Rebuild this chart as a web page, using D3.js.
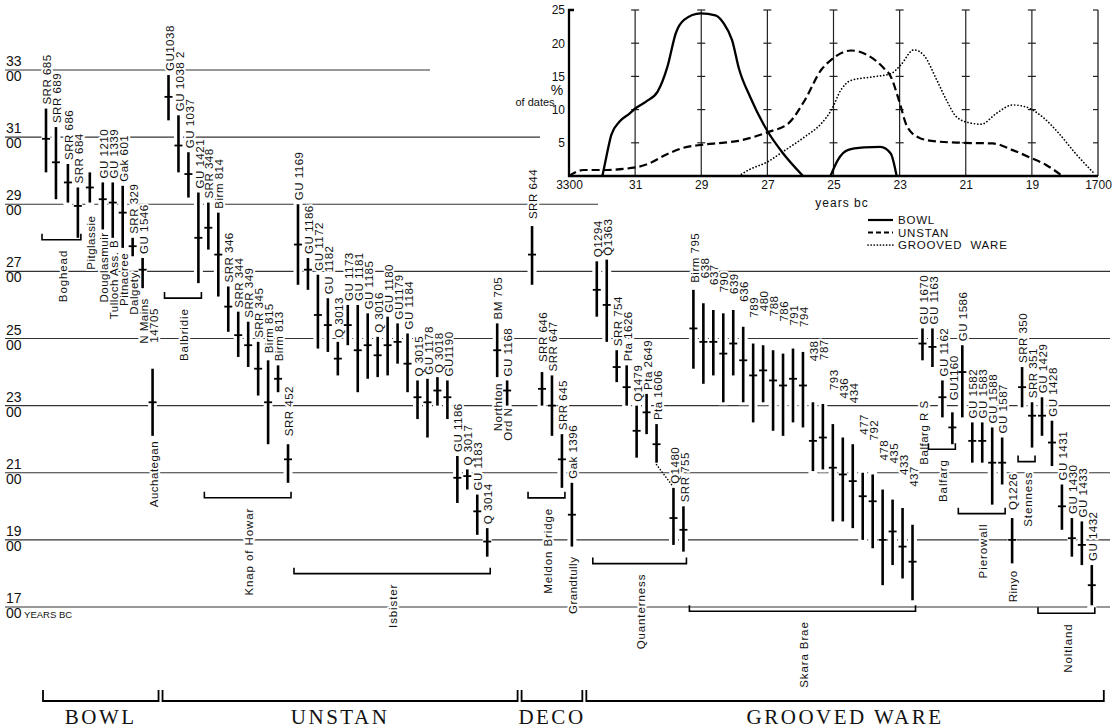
<!DOCTYPE html>
<html>
<head>
<meta charset="utf-8">
<script src="https://cdn.jsdelivr.net/npm/d3@7"></script>
<style>
body { margin: 0; background: #fff; }
svg text { font-family: "Liberation Sans", Arial, sans-serif; fill: #111; }
</style>
</head>
<body>
<script>
// radiocarbon dates, years bc: [lab code, upper, mid, lower, site]
var bowlDates = [
  ["SRR 685", 3185, 3095, 2995],
  ["SRR 689", 3130, 3025, 2915],
  ["SRR 686", 3020, 2965, 2905],
  ["SRR 684", 2950, 2895, 2800],
  ["", 2995, 2950, 2905, "Pitglassie"],
  ["GU 1210", 2965, 2915, 2825, "Douglasmuir"],
  ["GU 1339", 2965, 2905, 2800, "Tulloch Ass. B"],
  ["Gak 601", 2955, 2875, 2770, "Pitnacree"],
  ["SRR 329", 2800, 2775, 2745, "Dalgety"],
  ["GU 1546", 2740, 2705, 2650, "N Mains"],
  ["14705", 2410, 2310, 2210, "Auchategan"]
];
var unstanDates = [
  ["GU1038", 3285, 3220, 3150],
  ["GU 1038 2", 3165, 3075, 2995],
  ["GU 1037", 3055, 2990, 2920],
  ["GU 1421", 2935, 2800, 2665],
  ["SRR 348", 2905, 2830, 2765],
  ["Birm 814", 2875, 2750, 2625],
  ["SRR 346", 2655, 2595, 2520],
  ["SRR 344", 2580, 2510, 2445],
  ["SRR 349", 2550, 2480, 2415],
  ["SRR 345", 2490, 2410, 2330],
  ["Birm 815", 2435, 2310, 2185],
  ["Birm 813", 2420, 2380, 2340],
  ["SRR 452", 2185, 2140, 2070],
  ["GU 1169", 2900, 2780, 2660],
  ["GU 1186", 2740, 2705, 2645],
  ["GU 1172", 2690, 2570, 2470],
  ["GU 1182", 2620, 2540, 2460],
  ["Q 3013", 2490, 2440, 2390],
  ["GU 1173", 2600, 2540, 2480],
  ["GU 1181", 2600, 2465, 2340],
  ["GU 1185", 2575, 2480, 2380],
  ["Q 3016", 2505, 2450, 2385],
  ["GU 1180", 2565, 2480, 2390],
  ["GU1179", 2545, 2490, 2425],
  ["GU 1184", 2515, 2425, 2340],
  ["Q 3015", 2375, 2325, 2260],
  ["GU 1178", 2380, 2310, 2205],
  ["Q 3018", 2385, 2345, 2300],
  ["GU1190", 2375, 2325, 2260],
  ["GU 1186", 2150, 2085, 2010],
  ["Q 3017", 2110, 2090, 2050],
  ["GU 1183", 2035, 1985, 1915],
  ["Q 3014", 1935, 1895, 1850],
  ["BM 705", 2545, 2465, 2385, "Northton"],
  ["GU 1168", 2375, 2345, 2300, "Ord N"]
];
var decoDates = [
  ["SRR 644", 2835, 2750, 2660],
  ["SRR 646", 2400, 2350, 2300],
  ["SRR 647", 2390, 2300, 2210],
  ["SRR 645", 2215, 2140, 2055],
  ["Gak 1396", 2070, 1975, 1880, "Grandtully"]
];
var groovedDates = [
  ["Q1294", 2730, 2645, 2565],
  ["Q1363", 2735, 2600, 2490],
  ["SRR 754", 2465, 2415, 2370],
  ["Pta 1626", 2420, 2355, 2300],
  ["Q1479", 2300, 2225, 2145],
  ["Pta 2649", 2335, 2280, 2215],
  ["Pta 1606", 2245, 2185, 2130],
  ["Q1480", 2055, 1965, 1885],
  ["SRR 755", 2000, 1930, 1865],
  ["Birm 795", 2645, 2530, 2410],
  ["638", 2605, 2490, 2365],
  ["637", 2585, 2490, 2390],
  ["790", 2575, 2455, 2310],
  ["639", 2585, 2485, 2390],
  ["636", 2535, 2435, 2310],
  ["789", 2485, 2390, 2250],
  ["480", 2480, 2405, 2310],
  ["788", 2465, 2375, 2225],
  ["786", 2455, 2360, 2210],
  ["791", 2470, 2380, 2250],
  ["794", 2460, 2360, 2235],
  ["438", 2310, 2195, 2105],
  ["787", 2305, 2205, 2110],
  ["793", 2245, 2115, 1955],
  ["436", 2205, 2095, 1955],
  ["434", 2185, 2075, 1935],
  ["477", 2100, 2030, 1900],
  ["792", 2095, 2015, 1875],
  ["478", 2050, 1900, 1765],
  ["435", 2020, 1925, 1825],
  ["433", 1995, 1880, 1785],
  ["437", 1945, 1835, 1720],
  ["GU 1670", 2530, 2485, 2435, "Balfarg R S"],
  ["GU 1163", 2530, 2475, 2415],
  ["GU 1162", 2375, 2325, 2265],
  ["GU1160", 2280, 2235, 2185],
  ["GU 1586", 2480, 2400, 2265],
  ["GU 1582", 2250, 2195, 2130],
  ["GU 1583", 2250, 2195, 2130],
  ["GU 1588", 2235, 2130, 2005],
  ["GU 1587", 2205, 2130, 2065],
  ["Q1226", 1965, 1900, 1830, "Rinyo"],
  ["SRR 350", 2415, 2355, 2295],
  ["SRR 351", 2310, 2270, 2175],
  ["GU 1429", 2325, 2270, 2210],
  ["GU 1428", 2255, 2190, 2120],
  ["GU 1431", 2065, 2000, 1930],
  ["GU 1430", 1965, 1905, 1850],
  ["GU 1433", 1955, 1885, 1825],
  ["GU 1432", 1825, 1765, 1705]
];

// sites bracketed under several dates: [name, first, last] (position in the full sequence)
var siteGroups = [
  ["Boghead", 0, 3], ["Balbridie", 11, 14], ["Knap of Howar", 15, 23],
  ["Isbister", 24, 43], ["Meldon Bridge", 46, 49], ["Quanterness", 51, 59],
  ["Skara Brae", 60, 82], ["Balfarg", 84, 86], ["Pierowall", 87, 91],
  ["Stenness", 93, 94], ["Noltland", 95, 100]
];
var wares = ["BOWL", "UNSTAN", "DECO", "GROOVED WARE"];

// main scale ticks
var yearTicks = [3300, 3100, 2900, 2700, 2500, 2300, 2100, 1900, 1700];

// inset: % of dates per ware, [year bc, percent]
var bowlCurveA = [[3199,0],[3187,2.9],[3172,6.2],[3147,8.2],[3117,9.4],[3099,10.2],[3067,11.2],[3032,12.7],[3002,16.5],[2977,21.5],[2952,23.5],[2902,24.5],[2857,24.2],[2832,23],[2807,20.5],[2785,16],[2752,11.9],[2699,6.7],[2657,3.7],[2592,0]];
var bowlCurveB = [[2509,0],[2487,2.4],[2457,3.9],[2407,4.3],[2358,4.4],[2327,3.4],[2309,0]];
var unstanCurve = [[3300,0],[3277,0.65],[3257,0.9],[3197,0.9],[3099,1.3],[3057,1.9],[3007,3.2],[2957,4.2],[2899,4.7],[2837,5],[2787,5.3],[2699,6.6],[2637,7.9],[2587,11.4],[2537,16],[2507,17.5],[2447,18.9],[2397,18.2],[2347,16.2],[2327,15],[2302,11.4],[2277,7.4],[2238,5.7],[2188,5.2],[2110,5],[2018,4.9],[1958,3.9],[1906,2.8],[1858,1.7],[1808,0]];
var groovedCurve = [[2787,0],[2757,0.9],[2697,2.2],[2652,3.7],[2587,5.9],[2537,7.9],[2507,9.9],[2477,13],[2447,14.4],[2387,14.9],[2327,15.4],[2297,16.7],[2257,19],[2227,18.2],[2188,14.5],[2158,11.4],[2128,8.9],[2088,8],[2053,7.8],[2008,9.4],[1958,10.7],[1918,10.4],[1868,8.9],[1818,6.4],[1768,3.4],[1710,0.3]];
var insetYears = [3300, 3100, 2900, 2700, 2500, 2300, 2100, 1900, 1700];
var insetYearLabels = ["3300", "31", "29", "27", "25", "23", "21", "19", "1700"];
var insetPct = [5, 10, 15, 20, 25];

// ---- layout tweaks (not data) ----
var gapBefore = {2: 0.2, 4: 0.2, 5: 0.3, 11: 0.6, 46: 1.5, 51: 1.5, 58: 0.7};
var codeGap = {10: 26, 21: 7, 23: 8, 46: 7, 47: 10, 86: 12, 92: 8};
var skaraGaps = [7,25,25,21,16,25,26,34,34,32,23,25,41,44,34,39,41,38,34,29,36,33,38];
skaraGaps.forEach(function(g, i) { codeGap[60 + i] = g; });
var siteGap = {4: 13, 5: 3, 6: 2, 7: 5, 8: 16, 9: 10, 10: 5, 44: 6, 45: 2, 50: 10, 83: 40, 92: 7};
var bracketGap = [2, 15, 15, 17, 10, 12, 11, 5, 9, 14, 8];
var lineEnd = {3300: 430, 3100: 540, 2900: 598};

var wareSets = [bowlDates, unstanDates, decoDates, groovedDates];
var dates = [];
var wareRange = [];
wareSets.forEach(function(set, w) {
  wareRange.push([dates.length, dates.length + set.length - 1]);
  set.forEach(function(r) {
    dates.push({code: r[0], hi: r[1], mid: r[2], lo: r[3], site: r[4] || "", ware: w});
  });
});
var shift = 0;
dates.forEach(function(d, i) {
  shift += gapBefore[i] || 0;
  d.slot = i + shift;
  d.i = i;
});

var W = 1117, H = 728;
var svg = d3.select("body").append("svg")
  .attr("width", W)
  .attr("height", H);

var xs = d3.scaleLinear().domain([0, 105]).range([46, 46 + 105 * 9.96]);
var y = d3.scaleLinear().domain([3300, 1700]).range([70, 607]);
var bx = function(d) { return xs(d.slot); };

var gGrid = svg.append("g"),
    gHalo = svg.append("g"),
    gTextHalo = svg.append("g"),
    gText = svg.append("g"),
    gBars = svg.append("g");

// horizontal century lines
yearTicks.forEach(function(t) {
  gGrid.append("line")
    .attr("x1", 5).attr("x2", lineEnd[t] || 1110)
    .attr("y1", y(t)).attr("y2", y(t))
    .attr("stroke", "#333").attr("stroke-width", 1.2);
  gText.append("text")
    .attr("x", 6).attr("y", y(t) - 4)
    .style("font-size", "14px")
    .text(String(t).slice(0, 2));
  var z = gText.append("text")
    .attr("x", 6).attr("y", y(t) + 11)
    .style("font-size", "14px")
    .text("00");
  if (t == 1700) {
    z.append("tspan").style("font-size", "9.5px").text(" YEARS BC");
  }
});

// rotated label helper
function vlabel(x, yy, txt, anchor, size, spacing) {
  [gTextHalo, gText].forEach(function(g, k) {
    var t = g.append("text")
      .attr("transform", "translate(" + x + "," + yy + ") rotate(-90)")
      .attr("dy", "0.36em")
      .attr("text-anchor", anchor)
      .style("font-size", (size || 11.5) + "px")
      .style("letter-spacing", (spacing || 0.5) + "px")
      .text(txt);
    if (k == 0) {
      t.style("fill", "#fff").attr("stroke", "#fff").attr("stroke-width", 4).attr("stroke-linejoin", "round");
    }
  });
}

// bars
gHalo.selectAll("line")
  .data(dates)
  .enter().append("line")
  .attr("x1", bx).attr("x2", bx)
  .attr("y1", function(d) { return y(d.hi) - 3; })
  .attr("y2", function(d) { return y(d.lo) + 3; })
  .attr("stroke", "#fff").attr("stroke-width", 9);

gBars.selectAll(".bar")
  .data(dates)
  .enter().append("line")
  .attr("class", "bar")
  .attr("x1", bx).attr("x2", bx)
  .attr("y1", function(d) { return y(d.hi); })
  .attr("y2", function(d) { return y(d.lo); })
  .attr("stroke", "#000").attr("stroke-width", 2.6);

gBars.selectAll(".mid")
  .data(dates)
  .enter().append("line")
  .attr("class", "mid")
  .attr("x1", function(d) { return bx(d) - 4; })
  .attr("x2", function(d) { return bx(d) + 4; })
  .attr("y1", function(d) { return y(d.mid); })
  .attr("y2", function(d) { return y(d.mid); })
  .attr("stroke", "#000").attr("stroke-width", 1.8);

// dotted link Pta 1606 -> Q1480
gBars.append("line")
  .attr("x1", bx(dates[57])).attr("y1", y(dates[57].lo) + 2)
  .attr("x2", bx(dates[58]) - 1).attr("y2", y(dates[58].hi) - 2)
  .attr("stroke", "#000").attr("stroke-width", 1.6)
  .attr("stroke-linecap", "round").attr("stroke-dasharray", "0.1,3");

// lab codes above, site names below
dates.forEach(function(d) {
  if (d.code) vlabel(bx(d) + 1, y(d.hi) - (codeGap[d.i] != null ? codeGap[d.i] : 4), d.code, "start");
  if (d.site) vlabel(bx(d) + 1, y(d.lo) + (siteGap[d.i] || 4), d.site, "end");
});

// site brackets
siteGroups.forEach(function(s, k) {
  var members = dates.slice(s[1], s[2] + 1);
  var x1 = bx(dates[s[1]]) - 4, x2 = bx(dates[s[2]]) + 3;
  var by = d3.max(members, function(d) { return y(d.lo); }) + bracketGap[k];
  gBars.append("path")
    .attr("d", "M" + x1 + "," + (by - 6) + "V" + by + "H" + x2 + "V" + (by - 6))
    .attr("fill", "none").attr("stroke", "#000").attr("stroke-width", 1.6);
  vlabel((x1 + x2) / 2 + 1, by + 10, s[0], "end", 11.5, 0.9);
});

// ware brackets along the bottom
wares.forEach(function(name, w) {
  var a = wareRange[w][0], b = wareRange[w][1];
  var x1 = a == 0 ? bx(dates[a]) - 3 : (bx(dates[a - 1]) + bx(dates[a])) / 2 + 2;
  var x2 = b == dates.length - 1 ? bx(dates[b]) + 12 : (bx(dates[b]) + bx(dates[b + 1])) / 2 - 2;
  svg.append("path")
    .attr("d", "M" + x1 + ",690V701H" + x2 + "V690")
    .attr("fill", "none").attr("stroke", "#000").attr("stroke-width", 1.8);
  svg.append("text")
    .attr("x", (x1 + x2) / 2).attr("y", 724)
    .attr("text-anchor", "middle")
    .style("font-family", "'Liberation Serif', 'Times New Roman', serif")
    .style("font-size", "21px")
    .style("letter-spacing", "2.5px")
    .text(name);
});

// ---------- inset: % of dates ----------
var xi = d3.scaleLinear().domain([3300, 1700]).range([569, 1098]);
var yi = d3.scaleLinear().domain([0, 25]).range([176, 10]);
var inset = svg.append("g");

insetYears.slice(1, -1).forEach(function(t) {
  inset.append("line")
    .attr("x1", xi(t)).attr("x2", xi(t)).attr("y1", yi(0)).attr("y2", yi(25))
    .attr("stroke", "#222").attr("stroke-width", 1.2);
  insetPct.forEach(function(p) {
    inset.append("line")
      .attr("x1", xi(t) - 4).attr("x2", xi(t) + 4).attr("y1", yi(p)).attr("y2", yi(p))
      .attr("stroke", "#222").attr("stroke-width", 1.2);
  });
});
inset.append("line")
  .attr("x1", xi(1700)).attr("x2", xi(1700)).attr("y1", yi(0)).attr("y2", yi(25))
  .attr("stroke", "#222").attr("stroke-width", 1.3);
insetPct.forEach(function(p) {
  inset.append("line")
    .attr("x1", xi(1700) - 5).attr("x2", xi(1700)).attr("y1", yi(p)).attr("y2", yi(p))
    .attr("stroke", "#222").attr("stroke-width", 1.2);
});
inset.append("path")
  .attr("d", "M" + (xi(3300) + 5) + "," + yi(25) + "H" + xi(3300) + "V" + yi(0) + "H" + xi(1700))
  .attr("fill", "none").attr("stroke", "#000").attr("stroke-width", 2.3);

var xAxisI = inset.append("g")
  .attr("transform", "translate(0," + yi(0) + ")")
  .call(d3.axisBottom(xi).tickValues(insetYears).tickSize(0).tickPadding(4)
    .tickFormat(function(d, i) { return insetYearLabels[i]; }));
var yAxisI = inset.append("g")
  .attr("transform", "translate(" + xi(3300) + ",0)")
  .call(d3.axisLeft(yi).tickValues(insetPct).tickSize(0).tickPadding(4));
[xAxisI, yAxisI].forEach(function(a) {
  a.select(".domain").remove();
  a.selectAll("text")
    .style("font-family", "'Liberation Sans', Arial, sans-serif")
    .style("font-size", "12px")
    .style("fill", "#111");
});

var curve = d3.line()
  .x(function(d) { return xi(d[0]); })
  .y(function(d) { return yi(d[1]); })
  .curve(d3.curveMonotoneX);

[bowlCurveA, bowlCurveB].forEach(function(c) {
  inset.append("path").datum(c).attr("d", curve)
    .attr("fill", "none").attr("stroke", "#000").attr("stroke-width", 2.3);
});
inset.append("path").datum(unstanCurve).attr("d", curve)
  .attr("fill", "none").attr("stroke", "#000").attr("stroke-width", 2.2)
  .attr("stroke-dasharray", "8,4");
inset.append("path").datum(groovedCurve).attr("d", curve)
  .attr("fill", "none").attr("stroke", "#000").attr("stroke-width", 1.7)
  .attr("stroke-linecap", "round").attr("stroke-dasharray", "0.1,3.2");

inset.append("text").attr("x", 557).attr("y", 95)
  .attr("text-anchor", "middle").style("font-size", "14px").text("%");
inset.append("text").attr("x", 535).attr("y", 106)
  .attr("text-anchor", "middle").style("font-size", "11px").text("of dates");
inset.append("text").attr("x", 842).attr("y", 207)
  .attr("text-anchor", "middle").style("font-size", "12px")
  .style("letter-spacing", "1px").text("years bc");

// legend
var legend = [["BOWL", null, 2.2], ["UNSTAN", "5,3", 1.8], ["GROOVED  WARE", "0.1,3", 1.7]];
legend.forEach(function(l, i) {
  var ly = 220 + i * 12.5;
  inset.append("line")
    .attr("x1", 868).attr("x2", 893).attr("y1", ly).attr("y2", ly)
    .attr("stroke", "#000").attr("stroke-width", l[2])
    .attr("stroke-linecap", l[1] == "0.1,3" ? "round" : "butt")
    .attr("stroke-dasharray", l[1]);
  inset.append("text")
    .attr("x", 898).attr("y", ly).attr("dy", "0.36em")
    .style("font-size", "11.5px").style("letter-spacing", "0.8px")
    .style("white-space", "pre")
    .text(l[0]);
});
</script>
</body>
</html>
